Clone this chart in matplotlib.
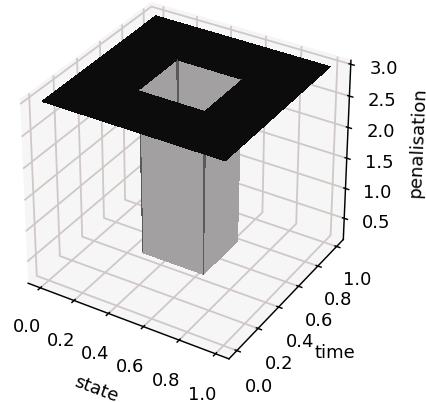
import numpy as np
import matplotlib
matplotlib.use("Agg")
import matplotlib.pyplot as plt
from matplotlib.colors import LinearSegmentedColormap

state = np.array([0.0, 0.33, 0.34, 0.69, 0.70, 1.0])
time = np.array([0.0, 0.32, 0.33, 0.66, 0.67, 1.0])
penalisation = np.array([
    [3.0, 3.0, 3.0, 3.0, 3.0, 3.0],
    [3.0, 3.0, 3.0, 3.0, 3.0, 3.0],
    [3.0, 3.0, 0.4, 0.4, 3.0, 3.0],
    [3.0, 3.0, 0.4, 0.4, 3.0, 3.0],
    [3.0, 3.0, 3.0, 3.0, 3.0, 3.0],
    [3.0, 3.0, 3.0, 3.0, 3.0, 3.0],
])
z_ticks = [0.5, 1.0, 1.5, 2.0, 2.5, 3.0]

cmap = LinearSegmentedColormap.from_list(
    "pen", [(0.0, "#a6a4a4"), (0.55, "#a2a0a0"), (0.8, "#4a4a4a"), (1.0, "#0c0c0c")]
)
S, T = np.meshgrid(state, time)

dpi = 130
fig = plt.figure(figsize=(426 / dpi, 402 / dpi), dpi=dpi)
ax = fig.add_axes([0.0, 0.0647, 0.861, 0.985], projection="3d")
ax.apply_aspect = lambda position=None: None
ax.set_box_aspect((4, 4, 3.3), zoom=1.017)
ax.view_init(elev=30, azim=-58.5)
ax.plot_surface(S, T, penalisation, cmap=cmap, rstride=1, cstride=1,
                linewidth=0, antialiased=False, shade=False)
ax.set_xlabel("state", labelpad=4)
ax.set_ylabel("time", labelpad=4)
ax.set_zlabel("penalisation", labelpad=4)
ax.set_zlim(0.14, 3.06)
ax.set_zticks(z_ticks)
for axis in (ax.xaxis, ax.yaxis, ax.zaxis):
    axis.set_pane_color((0.96, 0.96, 0.96, 0.9))
    axis._axinfo["grid"]["color"] = "#cfc8c6"
    axis._axinfo["grid"]["linewidth"] = 1.0
fig.savefig("out.png", dpi=dpi)
